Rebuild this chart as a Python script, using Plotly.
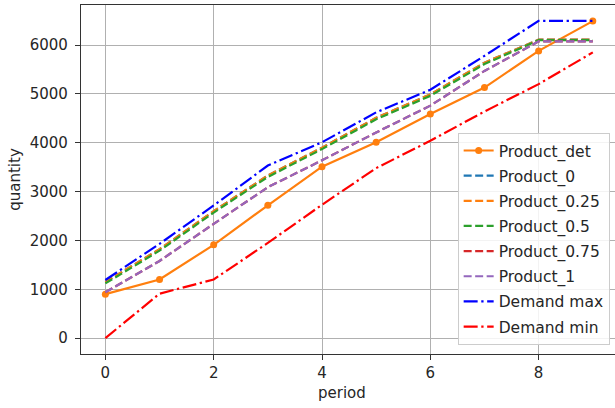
import plotly.graph_objects as go

period = [0, 1, 2, 3, 4, 5, 6, 7, 8, 9]
product_det = [900, 1200, 1910, 2720, 3510, 4010, 4590, 5130, 5880, 6490]
product_0 = [1150, 1820, 2600, 3330, 3900, 4510, 4990, 5640, 6110, 6110]
product_025 = [1150, 1820, 2600, 3330, 3900, 4510, 4990, 5640, 6110, 6110]
product_05 = [1120, 1790, 2570, 3300, 3870, 4480, 4960, 5610, 6100, 6100]
product_075 = [940, 1580, 2340, 3090, 3640, 4210, 4760, 5470, 6075, 6075]
product_1 = [940, 1580, 2340, 3090, 3640, 4210, 4760, 5470, 6075, 6075]
demand_max = [1190, 1930, 2716, 3533, 4010, 4622, 5085, 5779, 6494, 6494]
demand_min = [0, 910, 1200, 1950, 2730, 3480, 4040, 4640, 5200, 5850]

FONT = "DejaVu Sans"
LW = 2.2
DASH = "8px,3.5px"
DASHDOT = "14px,3.6px,2.3px,3.6px"

series = [
    ("Product_det", product_det, "#ff7f0e", "solid", True),
    ("Product_0", product_0, "#1f77b4", DASH, False),
    ("Product_0.25", product_025, "#ff7f0e", DASH, False),
    ("Product_0.5", product_05, "#2ca02c", DASH, False),
    ("Product_0.75", product_075, "#d62728", DASH, False),
    ("Product_1", product_1, "#9467bd", DASH, False),
    ("Demand max", demand_max, "#0000ff", DASHDOT, False),
    ("Demand min", demand_min, "#ff0000", DASHDOT, False),
]

fig = go.Figure()
for i, (name, vals, color, dash, markers) in enumerate(series):
    fig.add_trace(go.Scatter(
        x=period, y=vals, name=name,
        mode="lines+markers" if markers else "lines",
        line=dict(color=color, width=LW, dash=dash),
        marker=dict(size=7, color=color) if markers else None,
        legendgroup=f"g{i}",
    ))

fig.update_layout(
    width=615, height=408,
    margin=dict(l=81, r=0, t=5, b=54, autoexpand=False),
    paper_bgcolor="white", plot_bgcolor="white",
    font=dict(family=FONT, size=15, color="#262626"),
    showlegend=True,
    legend=dict(
        x=0.99, y=0.026, xanchor="right", yanchor="bottom",
        bgcolor="rgba(255,255,255,0.85)", bordercolor="#cccccc", borderwidth=1,
        font=dict(family=FONT, size=15.5, color="#262626"),
        traceorder="grouped", tracegroupgap=2,
        itemwidth=30,
    ),
    xaxis=dict(
        range=[-0.45, 9.41], tickvals=[0, 2, 4, 6, 8],
        showgrid=True, gridcolor="#b0b0b0", gridwidth=1,
        showline=True, linecolor="#333333", linewidth=1.2, mirror=True,
        ticks="outside", ticklen=5, tickcolor="#333333",
        zeroline=False, automargin=False,
    ),
    yaxis=dict(
        range=[-325, 6820], tickvals=[0, 1000, 2000, 3000, 4000, 5000, 6000],
        showgrid=True, gridcolor="#b0b0b0", gridwidth=1,
        showline=True, linecolor="#333333", linewidth=1.2,
        ticks="outside", ticklen=5, tickcolor="#333333",
        zeroline=False, ticklabelstandoff=4, automargin=False,
    ),
    annotations=[
        dict(text="period", xref="paper", yref="paper", x=0.488, y=-0.112,
             xanchor="center", yanchor="middle", showarrow=False,
             font=dict(family=FONT, size=15, color="#262626")),
        dict(text="quantity", xref="paper", yref="paper", x=-0.125, y=0.5,
             xanchor="center", yanchor="middle", showarrow=False, textangle=-90,
             font=dict(family=FONT, size=15, color="#262626")),
    ],
)

fig.write_html("out.html", config={"displayModeBar": False},
               post_script="document.body.style.margin='0';")
